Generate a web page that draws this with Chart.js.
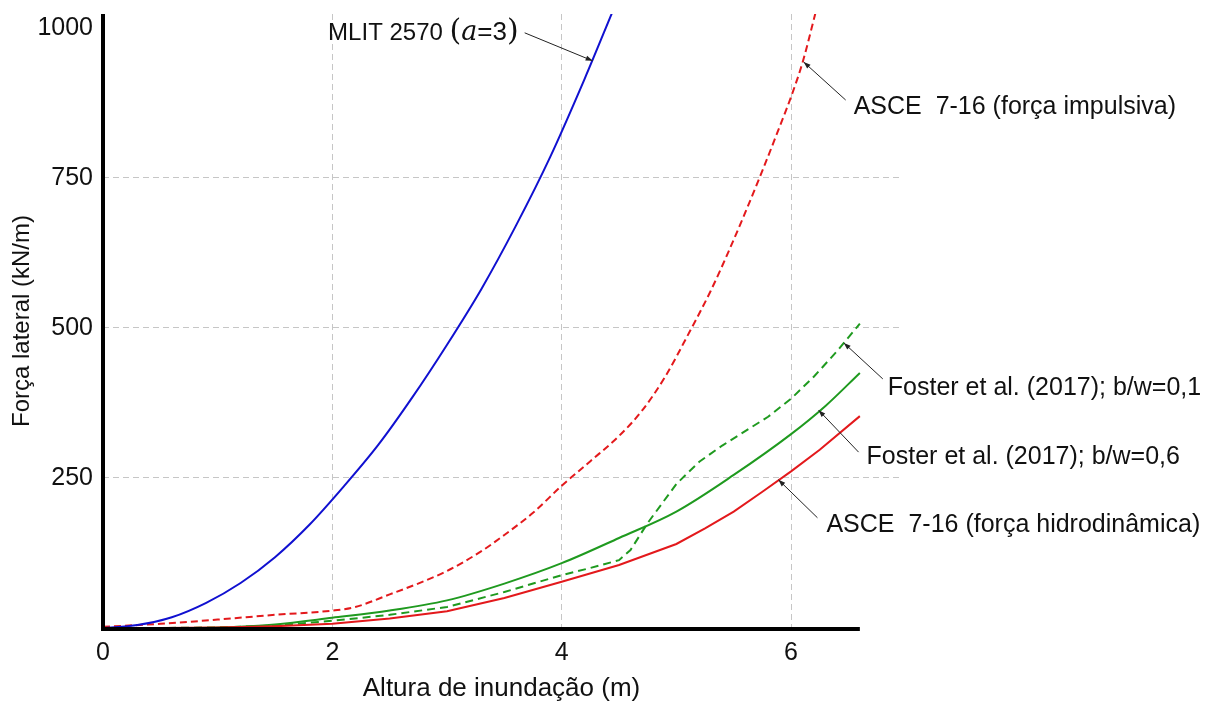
<!DOCTYPE html>
<html lang="pt">
<head>
<meta charset="UTF-8">
<title>Força lateral x altura de inundação</title>
<script src="https://cdn.jsdelivr.net/npm/chart.js@4"></script>
<style>
  html, body { margin: 0; padding: 0; background: #fff; }
  #wrap { width: 1208px; height: 704px; }
</style>
</head>
<body>
<div id="wrap"><canvas id="forceChart"></canvas></div>
<script>
// altura de inundação (m) -> força lateral (kN/m)
const mlitX = [0, 0.3, 0.6, 0.9, 1.2, 1.5, 1.8, 2.1, 2.4, 2.7, 3.0, 3.3, 3.6, 3.9, 4.2, 4.45];
const mlitY = [0, 5, 18, 42, 75, 118, 172, 236, 305, 385, 472, 565, 670, 785, 915, 1030];

const asceImpX = [0, 0.5, 1.0, 1.5, 2.0, 2.2, 2.5, 2.8, 3.0, 3.3, 3.5, 3.75, 4.0, 4.25, 4.5, 4.7, 4.9, 5.1, 5.3, 5.45, 5.6, 5.75, 5.9, 6.0, 6.1, 6.22];
const asceImpY = [2, 7, 14, 22, 29, 35, 56, 78, 95, 128, 155, 192, 237, 278, 320, 362, 418, 488, 562, 625, 692, 762, 835, 885, 942, 1030];

const asceHidX = [0, 0.5, 1.0, 1.5, 2.0, 2.5, 3.0, 3.5, 4.0, 4.5, 5.0, 5.25, 5.5, 5.75, 6.0, 6.25, 6.6];
const asceHidY = [0, 0, 1, 3, 7, 16, 28, 50, 77, 105, 140, 166, 194, 227, 261, 297, 353];

const foster06X = [0, 0.5, 1.0, 1.5, 2.0, 2.5, 3.0, 3.5, 4.0, 4.5, 5.0, 5.5, 6.0, 6.3, 6.6];
const foster06Y = [0, 0, 1, 6, 17, 29, 46, 74, 108, 150, 194, 255, 323, 370, 425];

const foster01X = [0, 0.5, 1.0, 1.5, 2.0, 2.5, 3.0, 3.5, 4.0, 4.25, 4.5, 4.6, 4.75, 5.0, 5.2, 5.4, 5.6, 5.8, 6.0, 6.2, 6.4, 6.6];
const foster01Y = [0, 0, 1, 4, 12, 22, 35, 60, 88, 100, 113, 130, 175, 240, 277, 304, 328, 352, 382, 419, 461, 507];

const xTicks = [0, 2, 4, 6];
const yTicks = [250, 500, 750, 1000];
const yGrid = [250, 500, 750];
const xAxisEnd = 6.6;

const BLUE = '#1010d0';
const RED = '#e3191c';
const GREEN = '#1f9a1f';
const FONT = "'Liberation Sans', Arial, sans-serif";
const MATH = "'DejaVu Serif', serif";

function pts(xs, ys) {
    return xs.map((x, i) => ({ x: x, y: ys[i] }));
}

// rótulos com linha de chamada (âncora em coordenadas de dados)
const notes = [
    { x: 4.27, y: 945, dx: -68, dy: -28, tx: -6, ty: -2, align: 'right',
      parts: [['MLIT 2570 ', '24px ' + FONT], ['(', '30px ' + MATH],
              ['a', 'italic 27px ' + MATH], ['=3', '26px ' + FONT],
              [')', '30px ' + MATH]] },
    { x: 6.11, y: 943, dx: 42, dy: 38, tx: 8, ty: 5, align: 'left',
      parts: [['ASCE  7-16 (força impulsiva)', '25px ' + FONT]] },
    { x: 6.46, y: 475, dx: 39, dy: 36, tx: 5, ty: 7, align: 'left',
      parts: [['Foster et al. (2017); b/w=0,1', '25px ' + FONT]] },
    { x: 6.24, y: 363, dx: 40, dy: 42, tx: 8, ty: 3, align: 'left',
      parts: [['Foster et al. (2017); b/w=0,6', '25px ' + FONT]] },
    { x: 5.89, y: 247, dx: 39, dy: 38, tx: 9, ty: 5, align: 'left',
      parts: [['ASCE  7-16 (força hidrodinâmica)', '25px ' + FONT]] }
];

const annotate = {
    id: 'annotate',
    afterDatasetsDraw(chart) {
        const { ctx, chartArea, scales: { x, y } } = chart;
        const x0 = x.getPixelForValue(0);
        const y0 = y.getPixelForValue(0);
        ctx.save();
        // eixos pretos
        ctx.strokeStyle = '#000';
        ctx.lineWidth = 4;
        ctx.beginPath();
        ctx.moveTo(x0, chartArea.top);
        ctx.lineTo(x0, y0 + 3);
        ctx.stroke();
        ctx.beginPath();
        ctx.moveTo(x0 - 2, y0 + 1);
        ctx.lineTo(x.getPixelForValue(xAxisEnd), y0 + 1);
        ctx.stroke();

        notes.forEach(n => {
            const ax = x.getPixelForValue(n.x);
            const ay = y.getPixelForValue(n.y);
            const ex = ax + n.dx, ey = ay + n.dy;
            ctx.strokeStyle = '#222';
            ctx.fillStyle = '#222';
            ctx.lineWidth = 1;
            ctx.beginPath();
            ctx.moveTo(ex, ey);
            ctx.lineTo(ax, ay);
            ctx.stroke();
            // ponta da seta
            const ang = Math.atan2(ay - ey, ax - ex);
            ctx.beginPath();
            ctx.moveTo(ax, ay);
            ctx.lineTo(ax - 7 * Math.cos(ang) + 2.5 * Math.sin(ang), ay - 7 * Math.sin(ang) - 2.5 * Math.cos(ang));
            ctx.lineTo(ax - 7 * Math.cos(ang) - 2.5 * Math.sin(ang), ay - 7 * Math.sin(ang) + 2.5 * Math.cos(ang));
            ctx.closePath();
            ctx.fill();

            // texto
            ctx.fillStyle = '#111';
            ctx.textBaseline = 'alphabetic';
            ctx.textAlign = 'left';
            let total = 0;
            n.parts.forEach(p => { ctx.font = p[1]; total += ctx.measureText(p[0]).width; });
            let tx = ex + n.tx;
            if (n.align === 'right') tx -= total;
            const base = ey + n.ty + 9;
            n.parts.forEach(p => {
                ctx.font = p[1];
                ctx.fillText(p[0], tx, base);
                tx += ctx.measureText(p[0]).width;
            });
        });
        ctx.restore();
    }
};

const ctx = document.getElementById('forceChart').getContext('2d');
const forceChart = new Chart(ctx, {
    type: 'line',
    data: {
        datasets: [
            { label: 'MLIT 2570 (a=3)', data: pts(mlitX, mlitY), borderColor: BLUE, borderWidth: 2, cubicInterpolationMode: 'monotone' },
            { label: 'ASCE 7-16 (força impulsiva)', data: pts(asceImpX, asceImpY), borderColor: RED, borderWidth: 2, borderDash: [7, 4], cubicInterpolationMode: 'monotone' },
            { label: 'ASCE 7-16 (força hidrodinâmica)', data: pts(asceHidX, asceHidY), borderColor: RED, borderWidth: 2 },
            { label: 'Foster et al. (2017); b/w=0,6', data: pts(foster06X, foster06Y), borderColor: GREEN, borderWidth: 2, cubicInterpolationMode: 'monotone' },
            { label: 'Foster et al. (2017); b/w=0,1', data: pts(foster01X, foster01Y), borderColor: GREEN, borderWidth: 2, borderDash: [8, 5] }
        ]
    },
    options: {
        responsive: true,
        maintainAspectRatio: false,
        animation: false,
        elements: {
            point: { radius: 0 },
            line: { tension: 0, fill: false }
        },
        layout: { padding: { left: 0, right: 308, top: 14, bottom: 0 } },
        plugins: { legend: { display: false }, tooltip: { enabled: false } },
        scales: {
            x: {
                type: 'linear',
                min: 0,
                max: 6.95,
                afterBuildTicks: s => { s.ticks = xTicks.map(v => ({ value: v })); },
                afterFit: s => { s.height = 76; s.paddingLeft = 0; s.paddingRight = 0; },
                grid: {
                    drawTicks: false,
                    color: c => (c.tick && c.tick.value !== 0) ? '#c6c6c6' : 'rgba(0,0,0,0)',
                    lineWidth: 1
                },
                border: { display: false, dash: [6, 4] },
                ticks: { color: '#111', font: { family: FONT, size: 25 }, padding: 10, maxRotation: 0, callback: v => String(v) },
                title: {
                    display: true,
                    text: 'Altura de inundação (m)',
                    color: '#111',
                    font: { family: FONT, size: 26 },
                    padding: { top: 0, bottom: 0 }
                }
            },
            y: {
                min: 0,
                max: 1023,
                afterBuildTicks: s => { s.ticks = yTicks.map(v => ({ value: v })); },
                afterFit: s => { s.width = 103; s.paddingTop = 0; s.paddingBottom = 0; },
                grid: {
                    drawTicks: false,
                    color: c => (c.tick && yGrid.includes(c.tick.value)) ? '#c6c6c6' : 'rgba(0,0,0,0)',
                    lineWidth: 1
                },
                border: { display: false, dash: [6, 4] },
                ticks: { color: '#111', font: { family: FONT, size: 25 }, padding: 10, callback: v => String(v) },
                title: {
                    display: true,
                    text: 'Força lateral (kN/m)',
                    color: '#111',
                    font: { family: FONT, size: 24 },
                    padding: { top: 8, bottom: 0 }
                }
            }
        }
    },
    plugins: [annotate]
});
</script>
</body>
</html>
